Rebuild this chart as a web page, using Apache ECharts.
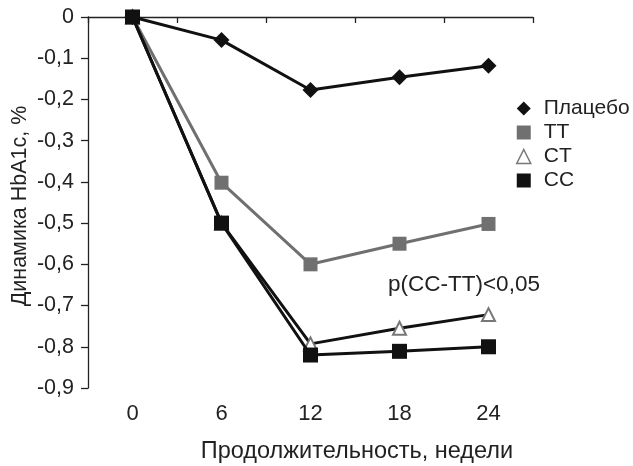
<!DOCTYPE html>
<html><head><meta charset="utf-8">
<script src="https://cdn.jsdelivr.net/npm/echarts@6/dist/echarts.min.js"></script>
<style>html,body{margin:0;padding:0;background:#fff}#c{width:633px;height:466px}</style>
</head><body><div id="c"></div>
<script>
const categories = ['0','6','12','18','24'];
const placebo = [0, -0.056, -0.177, -0.146, -0.118];
const tt = [0, -0.402, -0.600, -0.550, -0.502];
const ct = [0, -0.500, -0.793, -0.755, -0.722];
const cc = [0, -0.500, -0.820, -0.811, -0.800];
const seriesNames = ['Плацебо','TT','CT','CC'];
const xTitle = 'Продолжительность, недели';
const yTitle = 'Динамика HbA1c, %';
const note = 'p(CC-TT)<0,05';
const font = '"Liberation Sans", Arial, sans-serif';
const chart = echarts.init(document.getElementById('c'));
chart.setOption({
  animation:false,
  backgroundColor:'#fff',
  grid:{left:88,right:100,top:17,bottom:78,outerBoundsMode:'none',containLabel:false},
  xAxis:{type:'category',data:categories,boundaryGap:true,
    axisLine:{lineStyle:{color:'#222',width:1.3}},
    axisTick:{show:true,alignWithLabel:false,length:6,lineStyle:{color:'#222',width:1.3}},
    axisLabel:{fontFamily:font,fontSize:22,color:'#222',margin:15},
    splitLine:{show:false}},
  yAxis:{type:'value',min:-0.9,max:0,interval:0.1,
    axisLine:{show:true,onZero:false,lineStyle:{color:'#222',width:1.3}},
    axisTick:{show:true,length:7,lineStyle:{color:'#222',width:1.3}},
    axisLabel:{fontFamily:font,fontSize:21.5,color:'#222',margin:14,
      formatter:v=>{const r=Math.round(v*10)/10; return r===0?'0':String(r).replace('.',',');}},
    splitLine:{show:false}},
  legend:{orient:'vertical',left:511,top:93,itemWidth:14,itemHeight:14,itemGap:3,
    textStyle:{fontFamily:font,fontSize:21,color:'#222',padding:[0,0,0,8]},
    data:[
      {name:seriesNames[0],icon:'diamond',itemStyle:{color:'#111'}},
      {name:seriesNames[1],icon:'rect',itemStyle:{color:'#707070'}},
      {name:seriesNames[2],icon:'triangle',itemStyle:{color:'#fff',borderColor:'#777',borderWidth:1.5}},
      {name:seriesNames[3],icon:'rect',itemStyle:{color:'#111'}}
    ]},
  series:[
    {name:seriesNames[2],type:'line',data:ct,symbol:'triangle',symbolSize:13,
      lineStyle:{color:'#111',width:3},itemStyle:{color:'#fff',borderColor:'#777',borderWidth:2},z:3},
    {name:seriesNames[3],type:'line',data:cc,symbol:'rect',symbolSize:15,
      lineStyle:{color:'#111',width:3},itemStyle:{color:'#111'},z:4},
    {name:seriesNames[1],type:'line',data:tt,symbol:'rect',symbolSize:14,
      lineStyle:{color:'#707070',width:3},itemStyle:{color:'#707070'},z:2},
    {name:seriesNames[0],type:'line',data:placebo,symbol:'diamond',symbolSize:16,
      lineStyle:{color:'#111',width:3},itemStyle:{color:'#111'},z:5}
  ],
  graphic:[
    {type:'text',x:388,y:285,style:{text:note,fontFamily:font,fontSize:22.5,fill:'#222',textAlign:'left',textVerticalAlign:'middle'}},
    {type:'text',x:357,y:452,style:{text:xTitle,fontFamily:font,fontSize:23.5,fill:'#222',textAlign:'center',textVerticalAlign:'middle'}},
    {type:'text',x:20,y:206,rotation:Math.PI/2,style:{text:yTitle,fontFamily:font,fontSize:21.5,fill:'#222',textAlign:'center',textVerticalAlign:'middle'}}
  ]
});
</script></body></html>
